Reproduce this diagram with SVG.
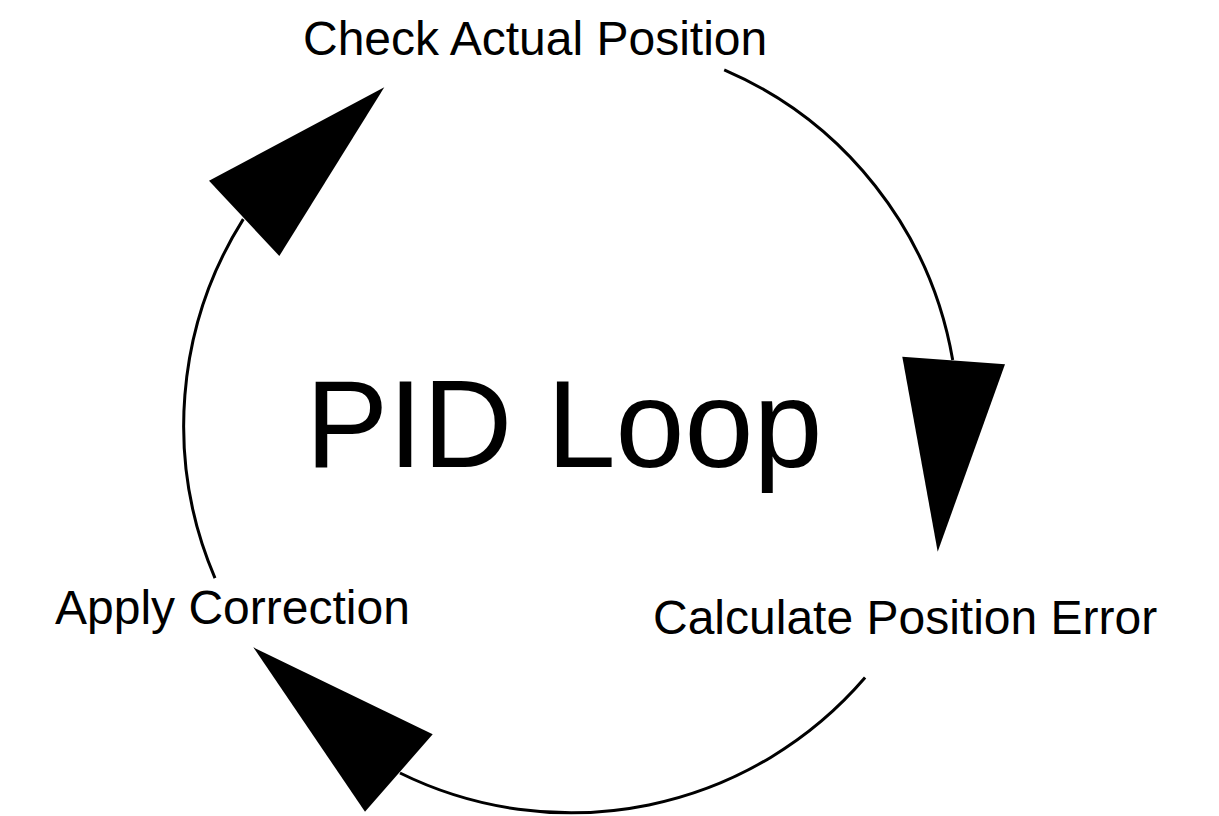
<svg xmlns="http://www.w3.org/2000/svg" width="1219" height="816" viewBox="0 0 1219 816">
<style>
.bg{fill:#ffffff}
.lbl{font-family:"Liberation Sans",Arial,sans-serif;font-size:48px;fill:#000000}
.title{font-family:"Liberation Sans",Arial,sans-serif;font-size:124px;fill:#000000}
.arc{fill:none;stroke:#000000;stroke-width:3}
.head{fill:#000000;stroke:none}
</style>
<rect class="bg" x="0" y="0" width="1219" height="816"/>
<g id="connectors">
<path class="arc" d="M724.2,69.8 A387.3,387.3 0 0 1 952.7,360.1"/>
<polygon class="head" points="937.7,551.7 902.3,356.7 1005,364.3"/>
<path class="arc" d="M865.1,677.6 A387.3,387.3 0 0 1 400,773"/>
<polygon class="head" points="253.3,647.3 432.7,734.3 365,811.7"/>
<path class="arc" d="M215,578.1 A387.3,387.3 0 0 1 243.3,219.1"/>
<polygon class="head" points="384.3,87.3 209,180.7 279.3,256"/>
</g>
<g id="center-label">
<text class="title" x="305.5" y="467">PID Loop</text>
</g>
<g id="node-check">
<text class="lbl" x="303" y="55">Check Actual Position</text>
</g>
<g id="node-calculate">
<text class="lbl" x="653" y="634">Calculate Position Error</text>
</g>
<g id="node-apply">
<text class="lbl" x="55" y="624">Apply Correction</text>
</g>
</svg>
